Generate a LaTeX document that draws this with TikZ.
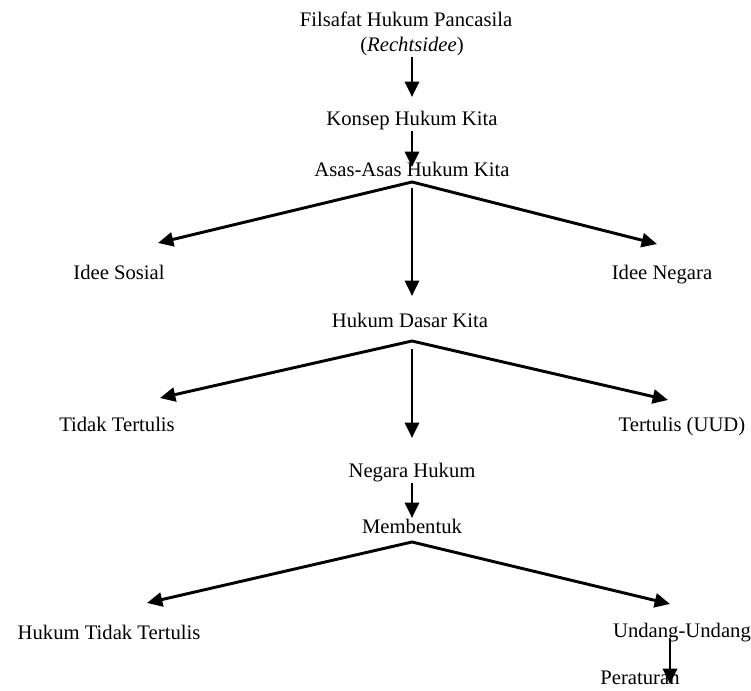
\documentclass[tikz,border=0pt]{standalone}
\usepackage{fontspec}
\setmainfont{Liberation Serif}
\usetikzlibrary{arrows.meta,calc}

\begin{document}
\begin{tikzpicture}[x=0.75pt,y=-0.75pt,
    lbl/.style={font=\fontsize{15.5}{18}\selectfont,inner sep=0pt,text height=15pt,text depth=3.5pt},
    arr/.style={line width=2.2pt,-{Triangle[length=11.5pt,width=10.5pt]}},
    fork/.style={line width=2.2pt,{Triangle[length=11.5pt,width=10.5pt]}-{Triangle[length=11.5pt,width=10.5pt]}}]
      \useasboundingbox (0,0) rectangle (751,691);
      % top of the chain
      \node[lbl] (filsafat) at (406,19) {Filsafat Hukum Pancasila};
      \node[lbl] (rechts) at (412,44) {(\textit{Rechtsidee})};
      \node[lbl] (konsep) at (412,118) {Konsep Hukum Kita};
      \node[lbl] (asas) at (412,169) {Asas-Asas Hukum Kita};
      \coordinate (asasfork) at (412,182);
      \node[lbl] (sosial) at (119,272) {Idee Sosial};
      \node[lbl] (negara) at (662,272) {Idee Negara};
      \node[lbl] (dasar) at (410,320) {Hukum Dasar Kita};
      \coordinate (dasarfork) at (412,341);
      \node[lbl] (tidak) at (117,424) {Tidak Tertulis};
      \node[lbl] (tertulis) at (682,424) {Tertulis (UUD)};
      \node[lbl] (neghukum) at (412,470) {Negara Hukum};
      \node[lbl] (membentuk) at (412,526) {Membentuk};
      \coordinate (membentukfork) at (412,542);
      \node[lbl] (hukumtidak) at (109,632) {Hukum Tidak Tertulis};
      \node[lbl] (undang) at (682,630) {Undang-Undang};
      \node[lbl,text depth=0pt] (peraturan) at (640,675) {Peraturan};

      \draw[arr] (rechts.south) -- ($(konsep)+(0,-21)$);
      \draw[arr] (konsep.south) -- ($(asas)+(0,-2)$);
      \draw[fork] ($(sosial)+(39,-29)$) -- (asasfork) -- ($(negara)+(-5,-28)$);
      \draw[arr] ($(asasfork)+(0,6)$) -- ($(dasar)+(2,-24)$);
      \draw[fork] ($(tidak)+(43,-26)$) -- (dasarfork) -- ($(tertulis)+(-14,-24)$);
      \draw[arr] ($(dasarfork)+(0,8)$) -- ($(neghukum)+(0,-32)$);
      \draw[arr] (neghukum.south) -- ($(membentuk)+(0,-8)$);
      \draw[fork] ($(hukumtidak)+(38,-29)$) -- (membentukfork) -- ($(undang)+(-12,-26)$);
      \draw[arr] ($(undang.south)+(-12,-4)$) -- ($(peraturan)+(30,9)$);
    \end{tikzpicture}
\end{document}
